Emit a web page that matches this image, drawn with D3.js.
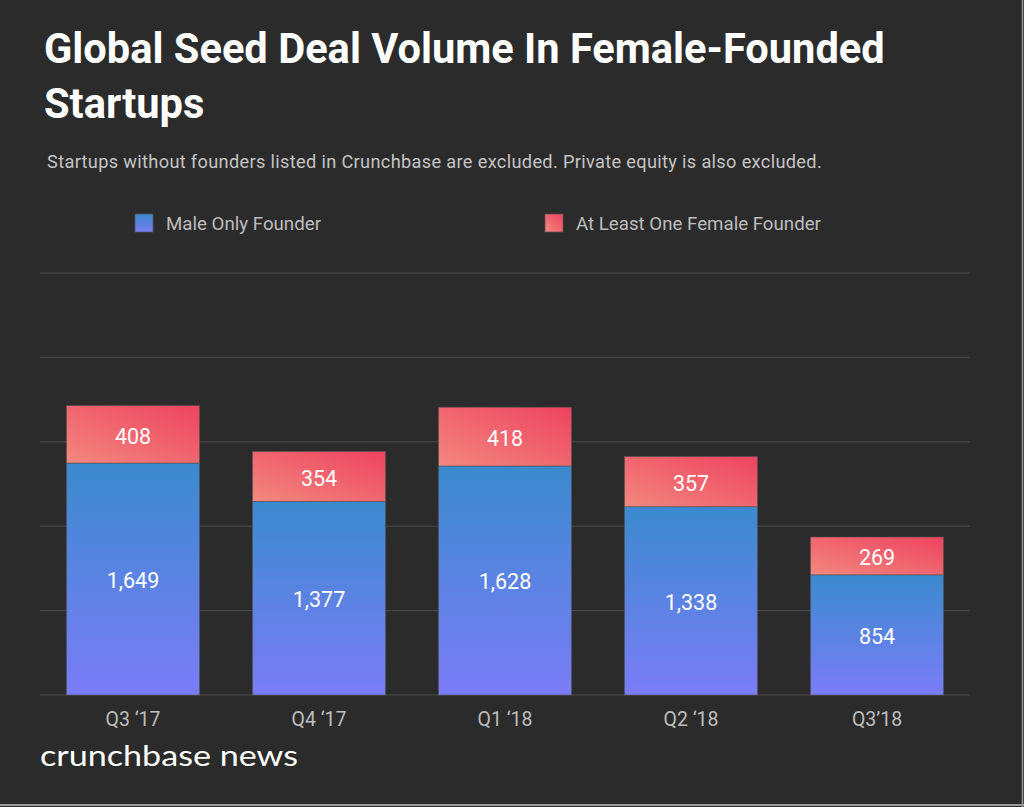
<!DOCTYPE html>
<html><head><meta charset="utf-8">
<script src="https://cdn.jsdelivr.net/npm/d3@7"></script>
<style>
html,body{margin:0;padding:0;background:#2b2b2b;}
svg{display:block;font-family:Roboto,"Noto Sans",sans-serif;}
</style></head>
<body>
<svg id="c" width="1024" height="807"></svg>
<script>
const categories = ["Q3 \u201817", "Q4 \u201817", "Q1 \u201818", "Q2 \u201818", "Q3\u201918"];
const maleOnly = [1649, 1377, 1628, 1338, 854];
const femaleFounder = [408, 354, 418, 357, 269];
const gridTicks = [0, 600, 1200, 1800, 2400, 3000];
const seriesNames = ["Male Only Founder", "At Least One Female Founder"];

const svg = d3.select("#c");
const W = 1024, H = 807;
svg.append("rect").attr("width", W).attr("height", H).attr("fill", "#2b2b2b");

const defs = svg.append("defs");
const gb = defs.append("linearGradient").attr("id","gBlue").attr("x1","0").attr("y1","0").attr("x2","0").attr("y2","1");
gb.append("stop").attr("offset","0%").attr("stop-color","#3b8ace");
gb.append("stop").attr("offset","100%").attr("stop-color","#7b7cf7");
const gr = defs.append("linearGradient").attr("id","gRed").attr("x1","0").attr("y1","1").attr("x2","1").attr("y2","0");
gr.append("stop").attr("offset","0%").attr("stop-color","#f2887e");
gr.append("stop").attr("offset","100%").attr("stop-color","#ee4360");

// title
svg.append("text").attr("x",44).attr("y",63).attr("fill","#fff").attr("font-size",41.6).attr("font-weight",700)
  .text("Global Seed Deal Volume In Female-Founded");
svg.append("text").attr("x",44).attr("y",118).attr("fill","#fff").attr("font-size",41.6).attr("font-weight",700)
  .text("Startups");
svg.append("text").attr("x",47).attr("y",168).attr("fill","#c4c4c4").attr("font-size",18.2).attr("letter-spacing",0.33)
  .text("Startups without founders listed in Crunchbase are excluded. Private equity is also excluded.");

// legend
const legX = [135, 545];
const legFill = ["url(#gBlue)", "url(#gRed)"];
seriesNames.forEach((n,i)=>{
  svg.append("rect").attr("x",legX[i]).attr("y",214).attr("width",18).attr("height",18)
    .attr("fill",legFill[i]).attr("stroke","#555").attr("stroke-width",0.7);
  svg.append("text").attr("x",legX[i]+31).attr("y",230).attr("fill","#bdbdbd").attr("font-size",18.7).text(n);
});

const x = d3.scaleBand().domain(categories).range([40,970]).paddingInner(0.285).paddingOuter(0.1425);
const y = d3.scaleLinear().domain([0,3000]).range([695,273]);

// grid
svg.append("g").selectAll("line").data(gridTicks).join("line")
  .attr("x1",40).attr("x2",970).attr("y1",d=>y(d)).attr("y2",d=>y(d))
  .attr("stroke","#4a4a4a").attr("stroke-width",1);

const data = categories.map((c,i)=>({c, m:maleOnly[i], f:femaleFounder[i]}));
const g = svg.append("g");
g.selectAll(".m").data(data).join("rect")
  .attr("x",d=>x(d.c)).attr("width",x.bandwidth())
  .attr("y",d=>y(d.m)).attr("height",d=>y(0)-y(d.m))
  .attr("fill","url(#gBlue)").attr("stroke","#555").attr("stroke-width",0.6);
g.selectAll(".f").data(data).join("rect")
  .attr("x",d=>x(d.c)).attr("width",x.bandwidth())
  .attr("y",d=>y(d.m+d.f)).attr("height",d=>y(d.m)-y(d.m+d.f))
  .attr("fill","url(#gRed)").attr("stroke","#555").attr("stroke-width",0.6);

const fmt = d3.format(",");
g.selectAll(".ml").data(data).join("text")
  .attr("x",d=>x(d.c)+x.bandwidth()/2).attr("y",d=>(y(0)+y(d.m))/2+9)
  .attr("text-anchor","middle").attr("fill","#fff").attr("font-size",21.5).text(d=>fmt(d.m));
g.selectAll(".fl").data(data).join("text")
  .attr("x",d=>x(d.c)+x.bandwidth()/2).attr("y",d=>(y(d.m)+y(d.m+d.f))/2+9.5)
  .attr("text-anchor","middle").attr("fill","#fff").attr("font-size",21.5).text(d=>fmt(d.f));

// x axis
const xa = svg.append("g").attr("transform","translate(0,695)").call(d3.axisBottom(x).tickSize(0));
xa.select(".domain").remove();
xa.selectAll("text").attr("fill","#bdbdbd").attr("font-size",19.5).attr("font-family","Roboto,sans-serif")
  .attr("dy",null).attr("y",31);

// logo
svg.append("text").attr("x",40).attr("y",766).attr("fill","#fff").attr("font-size",29).attr("font-family","Lato,sans-serif")
  .attr("textLength",258).attr("lengthAdjust","spacingAndGlyphs").text("crunchbase news");

// frame edges
svg.append("line").attr("x1",1022.5).attr("x2",1022.5).attr("y1",0).attr("y2",807).attr("stroke","#9a9a9a").attr("stroke-width",1.5);
svg.append("line").attr("x1",0).attr("x2",1024).attr("y1",805).attr("y2",805).attr("stroke","#9a9a9a").attr("stroke-width",2);
</script>
</body></html>
